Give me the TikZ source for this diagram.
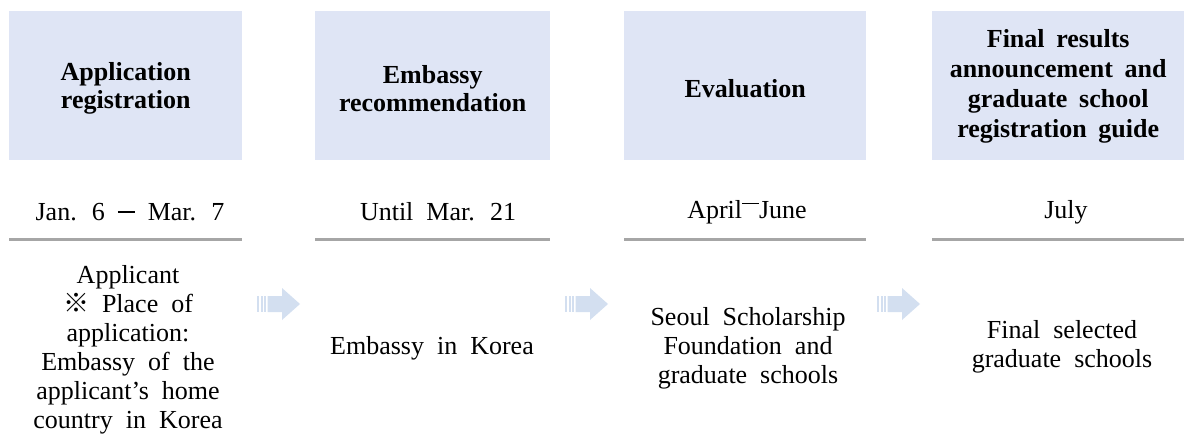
\documentclass[tikz,border=0pt]{standalone}
\usepackage{fontspec}
\setmainfont{Liberation Serif}
\newfontfamily\cjkfont{Noto Sans CJK KR}
\definecolor{hdrfill}{HTML}{DFE5F5}
\definecolor{arrfill}{HTML}{D3DFF0}
\definecolor{sepgray}{HTML}{A6A6A6}
\newcommand{\dashA}{\rule[0.3em]{0.65em}{1.3pt}}
\newcommand{\dashB}{\rule[0.55em]{0.65em}{1.3pt}}
\begin{document}
\begin{tikzpicture}[x=1pt,y=-1pt,
  hdr/.style={fill=hdrfill,draw=none,inner sep=0pt,minimum height=148.5pt,anchor=north west},
  hdrtxt/.style={inner sep=0pt,align=center,
    font={\bfseries\fontsize{26}{28}\selectfont\spaceskip=0.45em\relax}},
  txt/.style={inner sep=0pt,align=center,
    font={\fontsize{26}{29}\selectfont\spaceskip=0.5em\relax}},
  sepline/.style={draw=sepgray,line width=2.5pt},
  flowarrow/.pic={
    \fill[arrfill] (0,-8) rectangle (2,8);
    \fill[arrfill] (3.5,-8) rectangle (5.5,8);
    \fill[arrfill] (7,-8) rectangle (9,8);
    \fill[arrfill] (10.5,-8) -- (25,-8) -- (25,-16) -- (43,0) -- (25,16) -- (25,8) -- (10.5,8) -- cycle;
  }]
\useasboundingbox (0,0) rectangle (1184,444);
% header boxes
\node[hdr,minimum width=233pt] (h1) at (9,11) {};
\node[hdr,minimum width=235pt] (h2) at (315,11) {};
\node[hdr,minimum width=242pt] (h3) at (624,11) {};
\node[hdr,minimum width=252pt] (h4) at (932,11) {};
\node[hdrtxt] (t1) at ([yshift=-3pt]h1.center) {Application\\registration};
\node[hdrtxt] (t2) at ([yshift=-3pt]h2.center) {Embassy\\recommendation};
\node[hdrtxt] (t3) at ([yshift=-3pt]h3.center) {Evaluation};
\node[hdrtxt,font={\bfseries\fontsize{26}{30}\selectfont\spaceskip=0.45em\relax}] (t4) at ([yshift=-1pt]h4.center) {Final results\\announcement and\\graduate school\\registration guide};
% date row
\node[txt] (d1) at (130,212) {Jan. 6 \dashA{} Mar. 7};
\node[txt] (d2) at (438,212) {Until Mar. 21};
\node[txt] (d3) at (747,212) {April\dashB June};
\node[txt] (d4) at (1066,212) {July};
% separator lines
\draw[sepline] ([yshift=-79.5pt]h1.south west) -- ([yshift=-79.5pt]h1.south east);
\draw[sepline] ([yshift=-79.5pt]h2.south west) -- ([yshift=-79.5pt]h2.south east);
\draw[sepline] ([yshift=-79.5pt]h3.south west) -- ([yshift=-79.5pt]h3.south east);
\draw[sepline] ([yshift=-79.5pt]h4.south west) -- ([yshift=-79.5pt]h4.south east);
% content
\node[txt] (c1) at (128,350) {Applicant\\ {\cjkfont ※} Place of\\application:\\Embassy of the\\applicant’s home\\country in Korea};
\node[txt] (c2) at (432,348) {Embassy in Korea};
\node[txt] (c3) at (748,348) {Seoul Scholarship\\Foundation and\\graduate schools};
\node[txt] (c4) at (1062,347) {Final selected\\graduate schools};
% arrows
\coordinate (a1) at (257,304);
\coordinate (a2) at (565,304);
\coordinate (a3) at (877,304);
\pic at (a1) {flowarrow};
\pic at (a2) {flowarrow};
\pic at (a3) {flowarrow};
\end{tikzpicture}
\end{document}
